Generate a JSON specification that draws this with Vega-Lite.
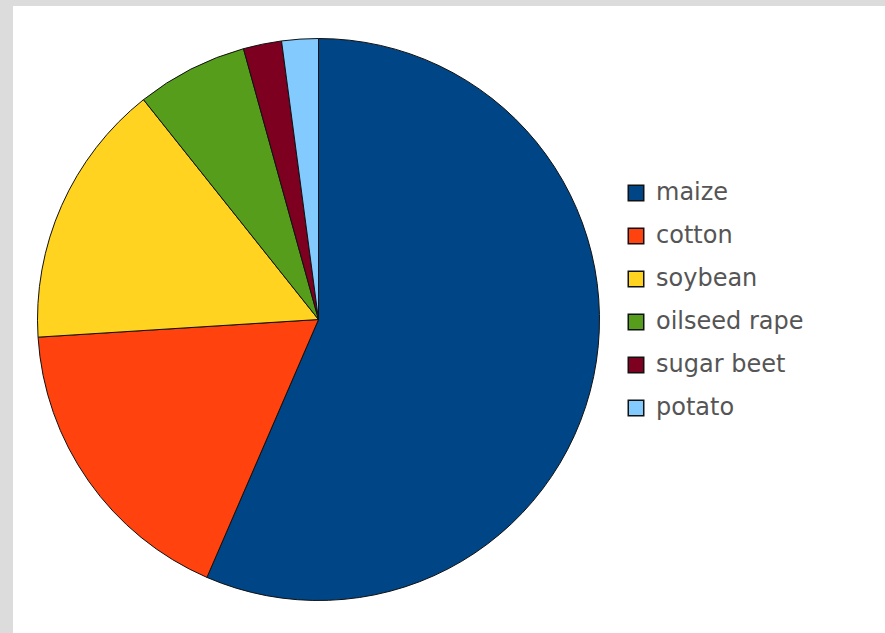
{
  "$schema": "https://vega.github.io/schema/vega-lite/v6.json",
  "width": 872,
  "height": 627,
  "padding": {"left": 13, "top": 6, "right": 0, "bottom": 0},
  "autosize": {"type": "none"},
  "background": "#dcdcdc",
  "view": {"fill": "#ffffff", "fillOpacity": 1, "stroke": null},
  "config": {"view": {"fill": "#ffffff", "stroke": null}},
  "data": {
    "values": [
      {"crop": "maize", "share": 56.5, "idx": 1},
      {"crop": "cotton", "share": 17.5, "idx": 2},
      {"crop": "soybean", "share": 15.3, "idx": 3},
      {"crop": "oilseed rape", "share": 6.4, "idx": 4},
      {"crop": "sugar beet", "share": 2.2, "idx": 5},
      {"crop": "potato", "share": 2.1, "idx": 6}
    ]
  },
  "mark": {"type": "arc", "radius": 281, "stroke": "#111111", "strokeWidth": 1, "xOffset": -130.5},
  "encoding": {
    "theta": {"field": "share", "type": "quantitative", "stack": true},
    "order": {"field": "idx", "type": "quantitative"},
    "color": {
      "field": "crop",
      "type": "nominal",
      "scale": {
        "domain": ["maize", "cotton", "soybean", "oilseed rape", "sugar beet", "potato"],
        "range": ["#004586", "#ff420e", "#ffd320", "#579d1c", "#7e0021", "#83caff"]
      },
      "legend": {
        "orient": "none",
        "legendX": 611,
        "legendY": 175,
        "title": null,
        "padding": 0,
        "symbolType": "square",
        "symbolSize": 240,
        "symbolStrokeColor": "#111111",
        "symbolStrokeWidth": 1.5,
        "symbolOpacity": 1,
        "labelFont": "DejaVu Sans",
        "labelFontSize": 24,
        "labelColor": "#555555",
        "labelOffset": 8,
        "rowPadding": 19,
        "labelLimit": 300
      }
    }
  }
}
